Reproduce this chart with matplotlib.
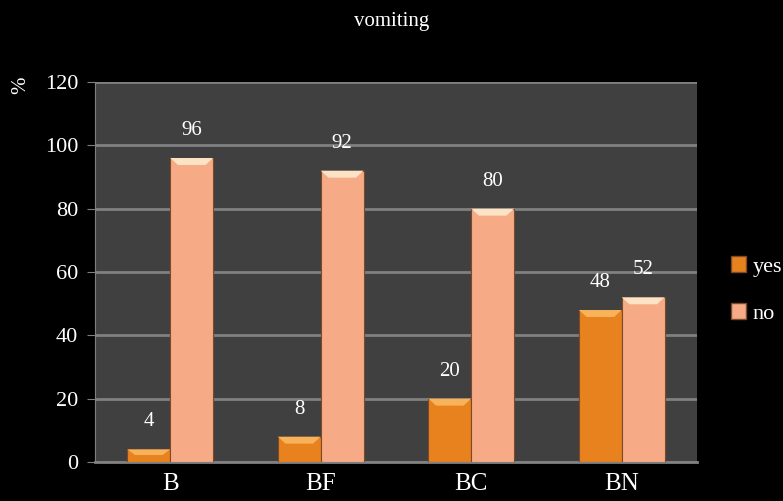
import numpy as np
import matplotlib
matplotlib.use("Agg")
import matplotlib.pyplot as plt
from matplotlib.patches import Polygon, Rectangle

# data
groups = ["B", "BF", "BC", "BN"]
yes_vals = [4, 8, 20, 48]
no_vals = [96, 92, 80, 52]
yticks = [0, 20, 40, 60, 80, 100, 120]

yes_col = "#e8821e"
yes_top = "#f7b25a"
no_col = "#f6ab86"
no_top = "#fde3c6"

plt.rcParams["font.family"] = ["Liberation Serif", "DejaVu Serif"]

fig = plt.figure(figsize=(7.83, 5.01), dpi=100, facecolor="black")
ax = fig.add_axes([95 / 783, 39 / 501, 602 / 783, 380 / 501])
ax.set_facecolor("#404040")

x = np.arange(len(groups))
w = 0.285

def bevel_bar(xc, h, col, top_col):
    ax.bar(xc, h, w, color=col, edgecolor="#7a4a2a", linewidth=0.8, zorder=3)
    # lighter sloped cap on top of each bar
    dx = w * 0.18
    dy = min(2.2, h * 0.45)
    cap = Polygon([(xc - w / 2, h), (xc + w / 2, h),
                   (xc + w / 2 - dx, h - dy), (xc - w / 2 + dx, h - dy)],
                  closed=True, facecolor=top_col, edgecolor="none", zorder=4)
    ax.add_patch(cap)

for i in range(len(groups)):
    bevel_bar(x[i] - w / 2, yes_vals[i], yes_col, yes_top)
    bevel_bar(x[i] + w / 2, no_vals[i], no_col, no_top)
    ax.annotate(str(yes_vals[i]), (x[i] - w / 2, yes_vals[i]), xytext=(0, 13),
                textcoords="offset points", ha="center", va="bottom",
                color="white", fontsize=15)
    ax.annotate(str(no_vals[i]), (x[i] + w / 2, no_vals[i]), xytext=(0, 13),
                textcoords="offset points", ha="center", va="bottom",
                color="white", fontsize=15)

ax.set_xlim(-0.5, len(groups) - 0.5)
ax.set_ylim(0, 120)
ax.set_yticks(yticks)
ax.yaxis.grid(True, color="#808080", linewidth=2, zorder=1)
ax.set_axisbelow(True)
for s in ["top", "right"]:
    ax.spines[s].set_visible(False)
ax.spines["left"].set_color("#808080")
ax.spines["bottom"].set_color("#808080")
ax.spines["bottom"].set_linewidth(2)
ax.tick_params(axis="y", colors="#808080", labelcolor="white", labelsize=16,
               length=6, pad=6)
ax.tick_params(axis="x", length=0, labelcolor="white", labelsize=18, pad=8)
ax.set_xticks(x)
ax.set_xticklabels(groups)

fig.text(0.5, 0.958, "vomiting", color="white", fontsize=15, ha="center", va="center")
fig.text(0.027, 0.83, "%", color="white", fontsize=15, rotation=90,
         ha="center", va="center")

# legend
handles = [Rectangle((0, 0), 1, 1, facecolor=yes_col, edgecolor="#7a4a2a"),
           Rectangle((0, 0), 1, 1, facecolor=no_col, edgecolor="#7a4a2a")]
leg = fig.legend(handles, ["yes", "no"], loc="center left",
                 bbox_to_anchor=(0.933, 0.421), frameon=False, fontsize=16,
                 labelcolor="white", handlelength=0.7, handleheight=0.7,
                 handletextpad=0.3, labelspacing=1.2, borderpad=0,
                 borderaxespad=0)

fig.savefig("out.png", dpi=100, facecolor="black")
